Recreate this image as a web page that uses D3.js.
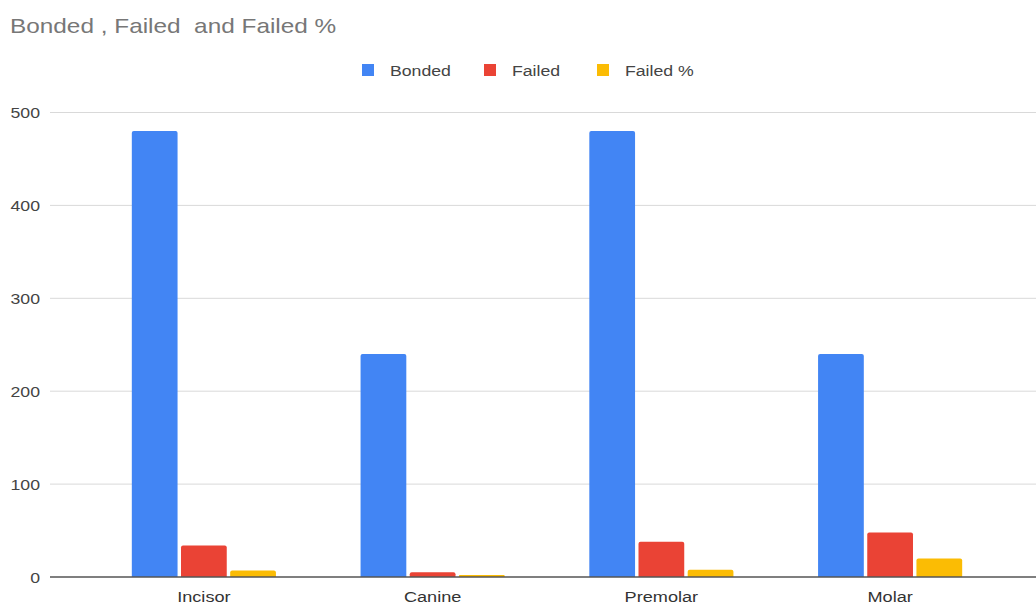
<!DOCTYPE html>
<html><head><meta charset="utf-8">
<script src="https://cdn.jsdelivr.net/npm/d3@7"></script>
<style>body{margin:0;background:#fff}svg{display:block;font-family:"Liberation Sans",Arial,sans-serif}text{white-space:pre}</style>
</head><body>
<script>
const categories = ["Incisor", "Canine", "Premolar", "Molar"];
const seriesNames = ["Bonded", "Failed", "Failed %"];
const bonded = [480, 240, 480, 240];
const failed = [34, 5, 38, 48];
const failedPct = [7.1, 2.1, 7.9, 20];
const yTicks = [0, 100, 200, 300, 400, 500];
const colors = ["#4285F4", "#EA4335", "#FBBC04"];
const titleText = "Bonded , Failed  and Failed %";

const W = 1036, H = 608;
const SX = 1.14;
const svg = d3.select("body").append("svg").attr("width", W).attr("height", H);

function stretched(g, x, y, txt, size, fill, anchor, sx) {
  return g.append("text").attr("transform", `translate(${x},${y}) scale(${sx || SX},1)`)
    .attr("text-anchor", anchor || "start").attr("fill", fill).style("font-size", size + "px").text(txt);
}

const seriesValues = [bonded, failed, failedPct];
const y = d3.scaleLinear().domain([0, 500]).range([577, 112.5]);
const x0 = d3.scaleBand().domain(categories).range([89.5, 1004.5]).paddingInner(0.37).paddingOuter(0.185);
const x1 = d3.scaleBand().domain(seriesNames).range([0, x0.bandwidth()]).paddingInner(0.07);

stretched(svg, 10, 33, titleText, 21, "#777", "start", 1.16);

// grid
svg.append("g").selectAll("line").data(yTicks.filter(d => d > 0)).join("line")
  .attr("x1", 50).attr("x2", W).attr("y1", d => y(d)).attr("y2", d => y(d))
  .attr("stroke", "#d9d9d9").attr("stroke-width", 1);

// y axis labels (positions from scale)
const gy = svg.append("g");
yTicks.forEach(t => stretched(gy, 40, y(t) + 5.5, String(t), 15.5, "#444", "end"));

// bars
const groups = svg.append("g").selectAll("g").data(categories).join("g")
  .attr("transform", c => `translate(${x0(c)},0)`);
groups.selectAll("path").data((c, i) => seriesNames.map((s, j) => ({s, v: seriesValues[j][i], j})))
  .join("path")
  .attr("fill", d => colors[d.j])
  .attr("d", d => {
    const bx = x1(d.s), bw = x1.bandwidth(), top = y(d.v), bot = y(0);
    const r = Math.min(2, (bot - top) / 2);
    return `M${bx},${bot}V${top + r}Q${bx},${top} ${bx + r},${top}H${bx + bw - r}Q${bx + bw},${top} ${bx + bw},${top + r}V${bot}Z`;
  });

// baseline
svg.append("line").attr("x1", 50).attr("x2", W).attr("y1", y(0)).attr("y2", y(0))
  .attr("stroke", "#555").attr("stroke-width", 1.5);

// x axis labels
const gx = svg.append("g");
categories.forEach(c => stretched(gx, x0(c) + x0.bandwidth() / 2, 602, c, 15.5, "#333", "middle", 1.17));

// legend
const legendX = [362, 484, 597];
const lg = svg.append("g");
seriesNames.forEach((s, i) => {
  lg.append("rect").attr("x", legendX[i]).attr("y", 64).attr("width", 12).attr("height", 12).attr("fill", colors[i]);
  stretched(lg, legendX[i] + 28, 76, s, 15.5, "#444", "start");
});
</script>
</body></html>
